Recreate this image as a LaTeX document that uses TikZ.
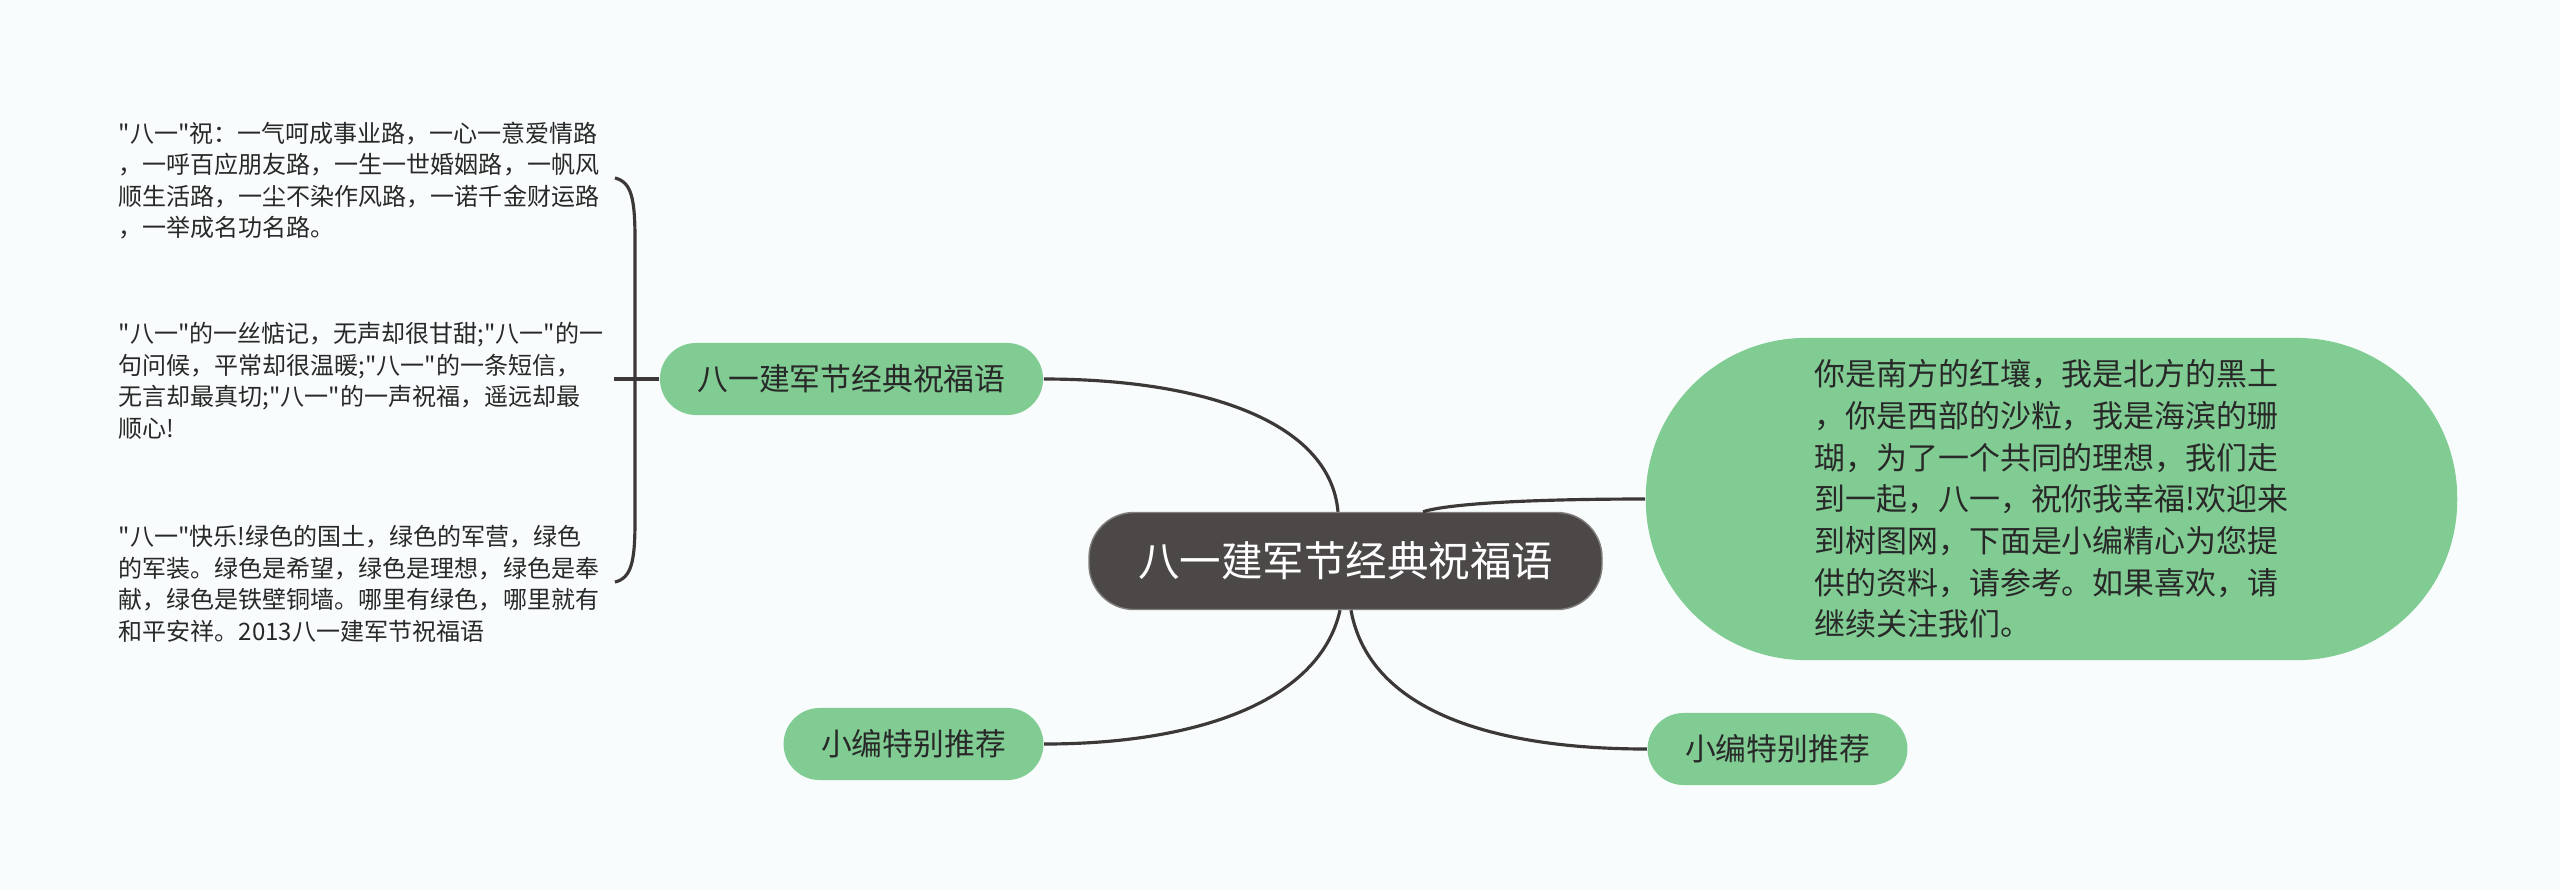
\documentclass[tikz,border=0pt]{standalone}
\usepackage{fontspec}
\setmainfont{Noto Sans CJK SC}[Ligatures=TeXOff]
\usepackage{xcolor}
\definecolor{bgcol}{RGB}{248,252,252}
\definecolor{leafgreen}{RGB}{128,204,147}
\definecolor{rootgray}{RGB}{77,72,72}
\definecolor{linkgray}{RGB}{60,56,56}
\definecolor{txtgray}{RGB}{40,40,40}

\begin{document}
\begin{tikzpicture}[x=0.01cm, y=-0.01cm,
    root/.style={rectangle, rounded corners=0.45cm, draw=rootgray!70!white, fill=rootgray, text=white, inner xsep=0.49cm, minimum height=0.97cm, font=\fontsize{11.8pt}{14pt}\selectfont},
    topic/.style={rectangle, rounded corners=0.36cm, fill=leafgreen, text=txtgray, inner xsep=0.375cm, minimum height=0.72cm, font=\fontsize{8.76pt}{11pt}\selectfont},
    bignote/.style={rectangle, rounded corners=1.6cm, fill=leafgreen, text=txtgray, minimum width=8.11cm, minimum height=3.22cm, align=left, font=\fontsize{8.8pt}{11.86pt}\selectfont},
    note/.style={anchor=west, inner sep=0pt, align=left, text=txtgray, font=\fontsize{6.83pt}{8.96pt}\selectfont},
    link/.style={draw=linkgray, line width=0.9pt}
]
\useasboundingbox (0,0) rectangle (2560,890);
\fill[bgcol] (0,0) rectangle (2560,890);

% Root
\node[root] (root) at (1345.5,561) {八一建军节经典祝福语};

% Topics
\node[topic] (b1) at (851.5,379) {八一建军节经典祝福语};
\node[topic] (b2) at (913.5,744) {小编特别推荐};
\node[bignote] (b3) at (2051.5,499) {你是南方的红壤，我是北方的黑土\\，你是西部的沙粒，我是海滨的珊\\瑚，为了一个共同的理想，我们走\\到一起，八一，祝你我幸福!欢迎来\\到树图网，下面是小编精心为您提\\供的资料，请参考。如果喜欢，请\\继续关注我们。};
\node[topic] (b4) at (1777.5,749) {小编特别推荐};

% Notes under the first topic
\node[note] (t1) at (118,180.5) {"八一"祝：一气呵成事业路，一心一意爱情路\\，一呼百应朋友路，一生一世婚姻路，一帆风\\顺生活路，一尘不染作风路，一诺千金财运路\\，一举成名功名路。};
\node[note] (t2) at (118,381) {"八一"的一丝惦记，无声却很甘甜;"八一"的一\\句问候，平常却很温暖;"八一"的一条短信，\\无言却最真切;"八一"的一声祝福，遥远却最\\顺心!};
\node[note] (t3) at (118,584) {"八一"快乐!绿色的国土，绿色的军营，绿色\\的军装。绿色是希望，绿色是理想，绿色是奉\\献，绿色是铁壁铜墙。哪里有绿色，哪里就有\\和平安祥。2013八一建军节祝福语};

% Bracket
\coordinate (brtop) at (615,178);
\coordinate (brbot) at (615,582);
\coordinate (brmid) at (614,379);
\draw[link] (brtop) .. controls (632,182) and (635,200) .. (635,240) -- (635,520) .. controls (635,560) and (632,578) .. (brbot);
\draw[link] (b1.west) -- (brmid);

% Links from root
\draw[link] ([xshift=-0.075cm]root.north) .. controls (1330,420) and (1200,379) .. (b1.east);
\draw[link] ([xshift=0.775cm]root.north) .. controls (1450,503) and (1540,499) .. (b3.west);
\draw[link] ([xshift=-0.055cm]root.south) .. controls (1320,700) and (1200,744) .. (b2.east);
\draw[link] ([xshift=0.055cm]root.south) .. controls (1368,705) and (1480,749) .. (b4.west);

\end{tikzpicture}
\end{document}
